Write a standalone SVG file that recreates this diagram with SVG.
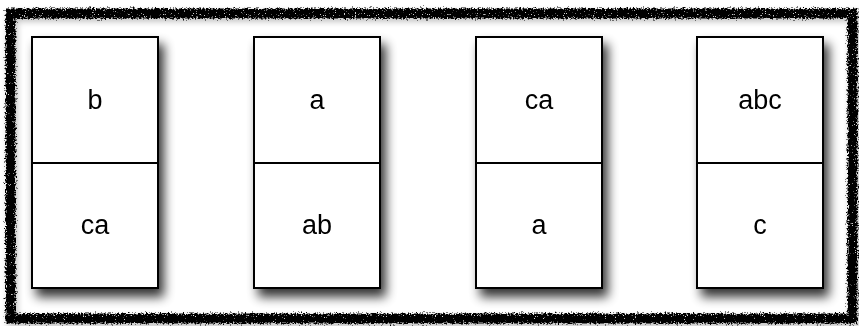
<svg xmlns="http://www.w3.org/2000/svg" width="859" height="326" viewBox="0 0 859 326">
  <defs>
    <filter id="shadow" x="-20%" y="-20%" width="150%" height="150%">
      <feGaussianBlur in="SourceAlpha" stdDeviation="5.5"/>
      <feOffset dx="5" dy="8" result="blur"/>
      <feComponentTransfer><feFuncA type="linear" slope="0.8"/></feComponentTransfer>
      <feMerge><feMergeNode/><feMergeNode in="SourceGraphic"/></feMerge>
    </filter>
    <filter id="rough" x="-5%" y="-5%" width="110%" height="110%">
      <feTurbulence type="fractalNoise" baseFrequency="0.6" numOctaves="2" seed="3" result="noise"/>
      <feDisplacementMap in="SourceGraphic" in2="noise" scale="7" xChannelSelector="R" yChannelSelector="G" result="disp"/>
      <feTurbulence type="fractalNoise" baseFrequency="0.9" numOctaves="1" seed="11" result="grain"/>
      <feColorMatrix in="grain" type="matrix" values="0 0 0 0 0  0 0 0 0 0  0 0 0 0 0  16 0 0 0 -4.2" result="mask"/>
      <feComposite in="disp" in2="mask" operator="in" result="chalk"/>
      <feGaussianBlur in="SourceAlpha" stdDeviation="3"/>
      <feOffset dx="2" dy="3"/>
      <feComponentTransfer><feFuncA type="linear" slope="0.25"/></feComponentTransfer>
      <feMerge><feMergeNode/><feMergeNode in="chalk"/></feMerge>
    </filter>
    <style>
      .card { fill: #fff; stroke: #000; stroke-width: 2; }
      .div { stroke: #000; stroke-width: 2; }
      .lbl { font-family: "Liberation Sans", Arial, sans-serif; font-size: 27px; fill: #000; text-anchor: middle; }
    </style>
  </defs>
  <rect width="859" height="326" fill="#fff"/>
  <!-- chalky outer frame -->
  <rect x="10.5" y="13.5" width="842" height="305" fill="none" stroke="#000" stroke-width="10" filter="url(#rough)"/>

  <g id="card1" filter="url(#shadow)">
    <rect class="card" x="32" y="37" width="126" height="251"/>
    <line class="div" x1="32" y1="163" x2="158" y2="163"/>
    <text class="lbl" x="95" y="109">b</text>
    <text class="lbl" x="95" y="234">ca</text>
  </g>
  <g id="card2" filter="url(#shadow)">
    <rect class="card" x="254" y="37" width="126" height="251"/>
    <line class="div" x1="254" y1="163" x2="380" y2="163"/>
    <text class="lbl" x="317" y="109">a</text>
    <text class="lbl" x="317" y="234">ab</text>
  </g>
  <g id="card3" filter="url(#shadow)">
    <rect class="card" x="476" y="37" width="126" height="251"/>
    <line class="div" x1="476" y1="163" x2="602" y2="163"/>
    <text class="lbl" x="539" y="109">ca</text>
    <text class="lbl" x="539" y="234">a</text>
  </g>
  <g id="card4" filter="url(#shadow)">
    <rect class="card" x="697" y="37" width="126" height="251"/>
    <line class="div" x1="697" y1="163" x2="823" y2="163"/>
    <text class="lbl" x="760" y="109">abc</text>
    <text class="lbl" x="760" y="234">c</text>
  </g>
  <g id="connectors"/>
</svg>
